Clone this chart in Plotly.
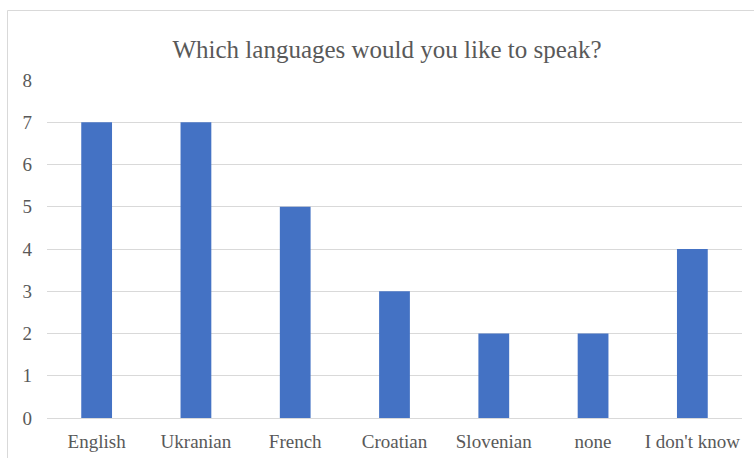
import plotly.graph_objects as go

categories = ["English", "Ukranian", "French", "Croatian", "Slovenian", "none", "I don't know"]
values = [7, 7, 5, 3, 2, 2, 4]
y_ticks = [0, 1, 2, 3, 4, 5, 6, 7, 8]

L, R, T, B = 47, 12, 80, 40
W, H = 754, 458
pw, ph = W - L - R, H - T - B

def px_x(x):
    return (x - L) / pw

def px_y(y):
    return (H - B - y) / ph

fig = go.Figure(go.Bar(x=categories, y=values, marker=dict(color="#4472C4", line=dict(width=0))))

fig.update_layout(
    width=W, height=H,
    margin=dict(l=L, r=R, t=T, b=B),
    paper_bgcolor="white", plot_bgcolor="white",
    bargap=0.69,
    font=dict(family="Liberation Serif, Times New Roman, serif", color="#595959", size=19),
    title=dict(text="Which languages would you like to speak?", xref="paper", x=px_x(387), xanchor="center",
               y=1 - 49 / H, yanchor="middle", font=dict(size=25, color="#595959")),
    showlegend=False,
    xaxis=dict(showgrid=False, showline=True, linecolor="#d9d9d9", linewidth=1, ticks="",
               automargin=False, ticklabelstandoff=6, tickfont=dict(size=19, color="#595959")),
    yaxis=dict(range=[0, 8], tickvals=y_ticks, showgrid=True, gridcolor="#d9d9d9", gridwidth=1,
               zeroline=False, showline=False, ticks="", ticklen=0, ticklabelstandoff=14,
               automargin=False, tickfont=dict(size=19, color="#595959")),
    shapes=[dict(type="rect", xref="paper", yref="paper",
                 x0=px_x(7.5), x1=px_x(760), y0=px_y(470), y1=px_y(10.5),
                 line=dict(color="#d9d9d9", width=1), fillcolor="rgba(0,0,0,0)", layer="below")],
)

fig.write_html("out.html", config={"displayModeBar": False},
               post_script="document.body.style.margin='0';document.body.style.overflow='hidden';")
